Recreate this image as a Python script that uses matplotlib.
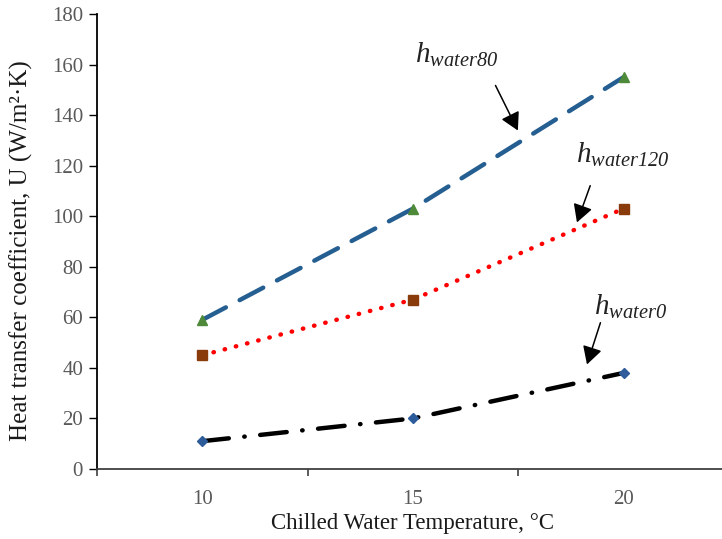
import matplotlib
matplotlib.use("Agg")
import matplotlib.pyplot as plt
import numpy as np

# data
temps = [10, 15, 20]
h_water80 = [59, 103, 155]
h_water120 = [45, 67, 103]
h_water0 = [11, 20, 38]

y_ticks = list(range(0, 181, 20))
x_labels = [10, 15, 20]
x_minor = [7.5, 12.5, 17.5, 22.5]

plt.rcParams['font.family'] = ['Liberation Serif', 'DejaVu Serif']
plt.rcParams['mathtext.fontset'] = 'custom'
# math text only used for the italic h labels -> keep digits italic too
plt.rcParams['mathtext.rm'] = 'Liberation Serif:italic'
plt.rcParams['mathtext.it'] = 'Liberation Serif:italic'

fig = plt.figure(figsize=(7.22, 5.39), dpi=100)
ax = fig.add_axes([0.1343, 0.1299, 0.8753, 0.8442])

# lines
ax.plot(temps, h_water80, color='#255E91', linewidth=3.2, dashes=(6, 3.5),
        dash_capstyle='round', zorder=3)
ax.plot(temps, h_water120, color='#FF0000', linewidth=3.2, dashes=(0.1, 2.5),
        dash_capstyle='round', zorder=3)
ax.plot(temps, h_water0, color='black', linewidth=3.2, dashes=(6, 3.5, 0.1, 3.5),
        dash_capstyle='round', zorder=3)

# markers
ax.plot(temps, h_water80, linestyle='none', marker='^', markersize=7,
        color='#4E8A3A', zorder=4)
ax.plot(temps, h_water120, linestyle='none', marker='s', markersize=7,
        color='#8A3B0C', zorder=4)
ax.plot(temps, h_water0, linestyle='none', marker='D', markersize=5,
        color='#2E5C9A', zorder=4)

ax.set_xlim(7.5, 22.5)
ax.set_ylim(0, 180)
ax.set_yticks(y_ticks)
ax.set_xticks(x_labels)
ax.set_xticks(x_minor, minor=True)
ax.tick_params(axis='x', which='major', length=0, pad=15, labelsize=15, labelcolor='#595959')
ax.tick_params(axis='x', which='minor', length=5, width=1.2, direction='out', color='#404040')
ax.tick_params(axis='y', length=6, width=1.0, direction='out', pad=4, labelsize=15,
               labelcolor='#595959')

for s in ['top', 'right']:
    ax.spines[s].set_visible(False)
ax.spines['left'].set_color('black')
ax.spines['left'].set_linewidth(1.3)
ax.spines['bottom'].set_color('#404040')
ax.spines['bottom'].set_linewidth(1.3)

ax.set_xlabel('Chilled Water Temperature, \u00b0C', fontsize=16.5, color='#1a1a1a')
ax.set_ylabel('Heat transfer coefficient, U (W/m\u00b2\u00b7K)', fontsize=18, color='#1a1a1a')
ax.xaxis.label.set_verticalalignment('center')
ax.yaxis.label.set_verticalalignment('center')
ax.xaxis.set_label_coords(0.5, -0.119)
ax.yaxis.set_label_coords(-0.120, 0.479)

# annotations
arrow = dict(arrowstyle='-|>,head_length=0.45,head_width=0.25', color='black', lw=1.1,
             mutation_scale=24)
ax.annotate('', xy=(17.52, 132.9), xytext=(16.93, 152.7), arrowprops=arrow)
ax.annotate('', xy=(18.87, 96.5), xytext=(19.23, 113.1), arrowprops=arrow)
ax.annotate('', xy=(19.11, 40.3), xytext=(19.47, 58.9), arrowprops=arrow)

ax.text(15.04, 160.6, r'$h_{water80}$', fontsize=21, color='#222222', ha='left', va='baseline')
ax.text(18.87, 121.0, r'$h_{water120}$', fontsize=21, color='#222222', ha='left', va='baseline')
ax.text(19.3, 60.9, r'$h_{water0}$', fontsize=21, color='#222222', ha='left', va='baseline')

fig.savefig('out.png', dpi=100)
